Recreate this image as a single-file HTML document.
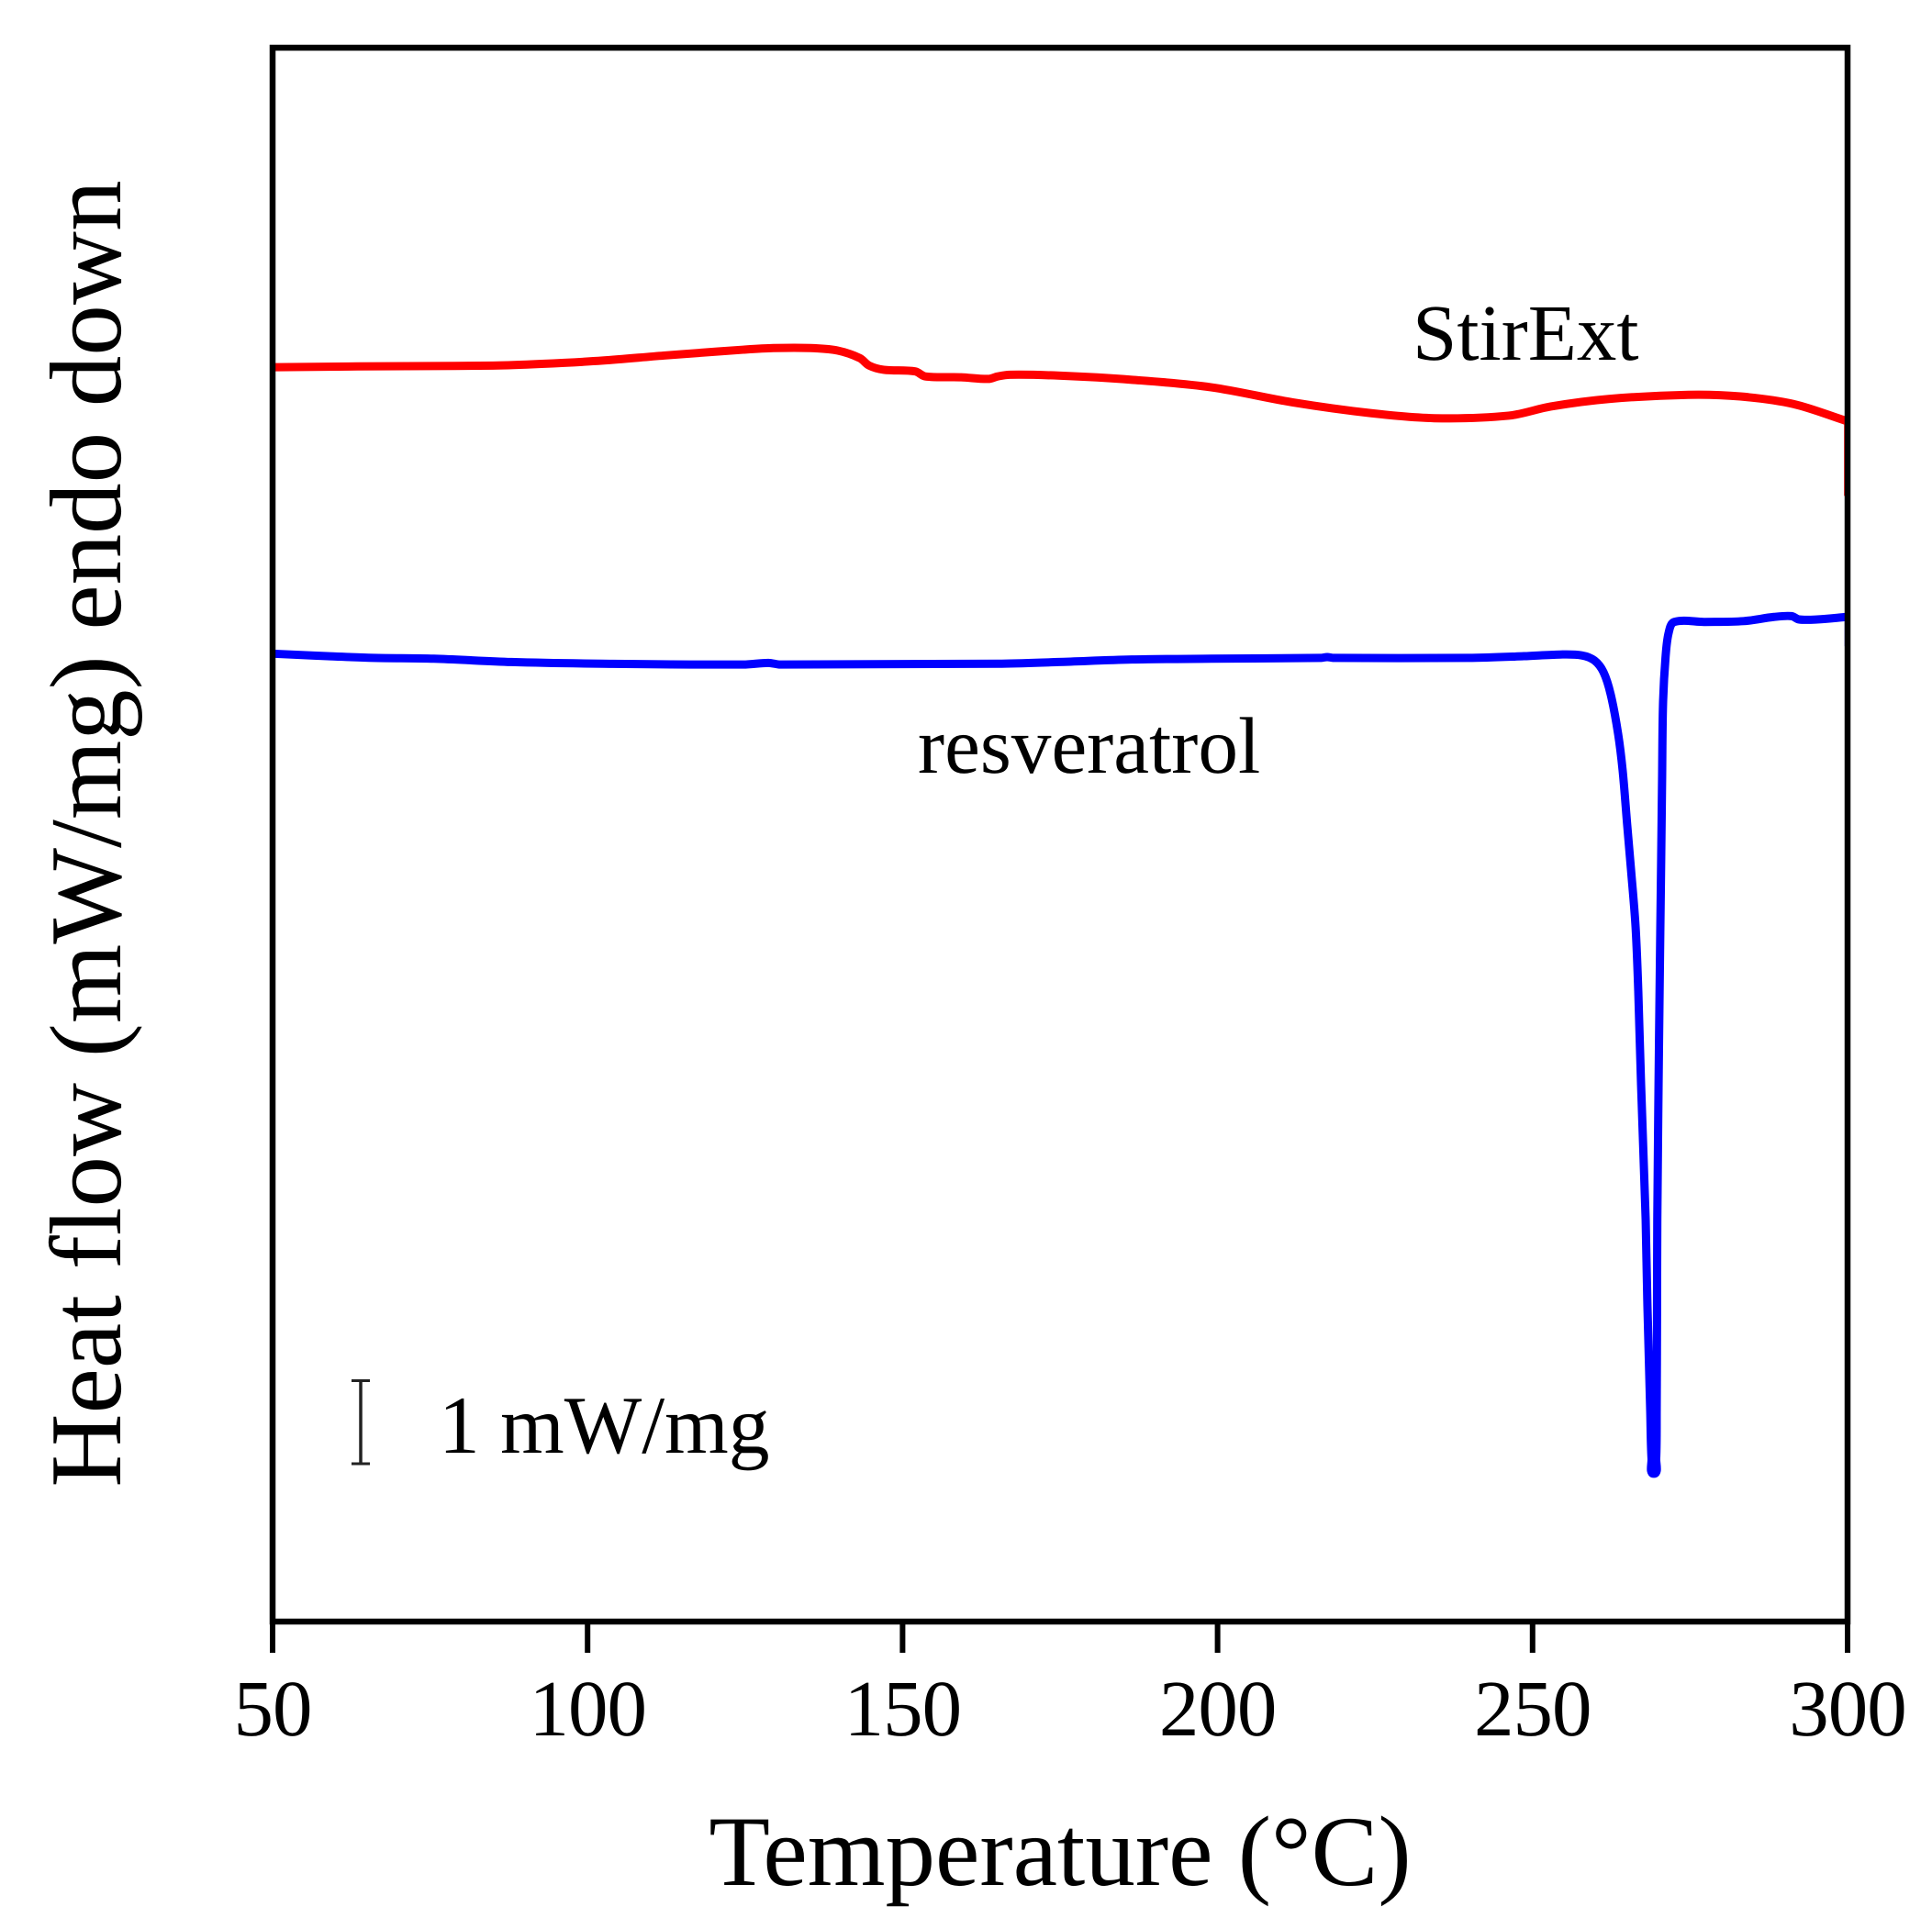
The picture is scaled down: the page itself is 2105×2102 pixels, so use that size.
<!DOCTYPE html>
<html lang="en">
<head>
<meta charset="utf-8">
<title>DSC heat flow vs temperature</title>
<style>
html,body{margin:0;padding:0;background:#fff;}
svg{display:block;}
text{font-family:"Liberation Serif","Times New Roman",serif;fill:#000;text-rendering:geometricPrecision;}
</style>
</head>
<body>
<svg id="chart" xmlns="http://www.w3.org/2000/svg" width="2105" height="2102" viewBox="0 0 2105 2102">
  <rect x="0" y="0" width="2105" height="2102" fill="#fff"/>
  <g id="series"></g>
  <rect x="297" y="52" width="1716" height="1715" fill="none" stroke="#000" stroke-width="6.5"/>
  <g id="ticks"></g>
  <text x="1155" y="2054" font-size="109" text-anchor="middle">Temperature (°C)</text>
  <text transform="translate(131 908.5) rotate(-90)" font-size="111" text-anchor="middle">Heat flow (mW/mg) endo down</text>
  <text x="1539" y="392" font-size="87">StirExt</text>
  <text x="1000" y="842" font-size="87.3">resveratrol</text>
  <text x="478" y="1583" font-size="89.5">1 mW/mg</text>
  <g stroke="#222" fill="none">
    <line x1="393" x2="393" y1="1504" y2="1595" stroke-width="3.5"/>
    <line x1="383" x2="403" y1="1504.5" y2="1504.5" stroke-width="3"/>
    <line x1="383" x2="403" y1="1595" y2="1595" stroke-width="3"/>
  </g>
</svg>
<script>
// X axis categories (temperature, °C)
const xTicks = [50, 100, 150, 200, 250, 300];

// StirExt trace: temperature (°C) and heat flow (mW/mg, arbitrary offset)
const stirExtTemp = [50, 63.5, 85, 92.7, 102.4, 112.1, 124.7, 129.5, 135.4, 139.7, 143.2, 144.7, 147, 152, 153.6, 159.3, 163.6, 165.1, 167, 174.7, 186.4, 199, 211.9, 224.4, 234.4, 246.2, 252.9, 262.1, 274.7, 283, 291.4, 299.7];
const stirExtFlow = [15.02, 15.03, 15.04, 15.06, 15.1, 15.16, 15.23, 15.25, 15.25, 15.22, 15.13, 15.04, 14.99, 14.97, 14.91, 14.9, 14.88, 14.91, 14.93, 14.92, 14.87, 14.78, 14.6, 14.47, 14.41, 14.44, 14.55, 14.64, 14.69, 14.67, 14.58, 14.38];
const stirExtTailTemp = [299.7, 299.7];
const stirExtTailFlow = [14.38, 13.48];

// Resveratrol trace: temperature (°C) and heat flow (mW/mg, arbitrary offset)
const resveratrolTemp = [50, 58.7, 66, 75.6, 87.9, 102.4, 124.7, 128.7, 130.6, 165.1, 174.7, 186.4, 199, 216.5, 217.4, 218.3, 239.8, 248.6, 254.4, 257.8, 259.8, 261.25, 262.41, 263.58, 264.3, 265.03, 265.62, 266.35, 266.78, 267.22, 267.95, 268.24, 268.68, 268.89, 269.26, 269.62, 269.7, 269.76, 269.8, 270, 270.13, 270.27, 270.42, 270.56, 270.71, 271.1, 271.6, 272.5, 277.3, 283.5, 288.3, 291.1, 292.3, 295.2, 299.9];
const resveratrolFlow = [11.59, 11.56, 11.54, 11.53, 11.49, 11.47, 11.46, 11.48, 11.46, 11.47, 11.49, 11.52, 11.53, 11.54, 11.55, 11.54, 11.54, 11.56, 11.58, 11.57, 11.51, 11.37, 11.1, 10.63, 10.19, 9.53, 9.01, 8.32, 7.55, 6.44, 4.82, 3.76, 2.52, 1.95, 1.77, 1.95, 2.52, 3.76, 4.82, 6.44, 7.33, 8.24, 9.16, 10.08, 10.99, 11.54, 11.84, 11.97, 11.97, 11.98, 12.03, 12.04, 12, 12, 12.03];
const resveratrolTailTemp = [299.9, 299.9];
const resveratrolTailFlow = [12.03, 11.68];

// Axis functions
function xScale(t) { return 297 + (t - 50) * (2013 - 297) / (300 - 50); }
function yScale(v) { return 1767 - v * 91; }

const SVG_NS = 'http://www.w3.org/2000/svg';

// Smooth curve through the data points; handle length follows each segment, so no overshoot.
function pathFrom(temps, flows) {
  const pts = temps.map(function (t, i) { return [xScale(t), yScale(flows[i])]; });
  const n = pts.length;
  function tangent(i) {
    const a = pts[Math.max(i - 1, 0)];
    const b = pts[Math.min(i + 1, n - 1)];
    const dx = b[0] - a[0];
    const dy = b[1] - a[1];
    const len = Math.hypot(dx, dy) || 1;
    return [dx / len, dy / len];
  }
  let d = 'M' + pts[0][0].toFixed(2) + ' ' + pts[0][1].toFixed(2);
  for (let i = 0; i < n - 1; i++) {
    const p = pts[i];
    const q = pts[i + 1];
    const seg = Math.hypot(q[0] - p[0], q[1] - p[1]) / 3;
    const t0 = tangent(i);
    const t1 = tangent(i + 1);
    d += ' C' + (p[0] + t0[0] * seg).toFixed(2) + ' ' + (p[1] + t0[1] * seg).toFixed(2) +
         ' ' + (q[0] - t1[0] * seg).toFixed(2) + ' ' + (q[1] - t1[1] * seg).toFixed(2) +
         ' ' + q[0].toFixed(2) + ' ' + q[1].toFixed(2);
  }
  return d;
}

function addLine(temps, flows, color, width) {
  const p = document.createElementNS(SVG_NS, 'path');
  p.setAttribute('d', pathFrom(temps, flows));
  p.setAttribute('fill', 'none');
  p.setAttribute('stroke', color);
  p.setAttribute('stroke-width', width);
  p.setAttribute('stroke-linejoin', 'round');
  p.setAttribute('stroke-linecap', 'butt');
  document.getElementById('series').appendChild(p);
  return p;
}

const stirExtLine = addLine(stirExtTemp, stirExtFlow, '#ff0000', 9);


const stirExtTail = addLine(stirExtTailTemp, stirExtTailFlow, '#ff0000', 3.5);


const resveratrolLine = addLine(resveratrolTemp, resveratrolFlow, '#0000ff', 9);


const resveratrolTail = addLine(resveratrolTailTemp, resveratrolTailFlow, '#0000ff', 5);



const tickGroup = document.getElementById('ticks');
xTicks.forEach(function (t) {
  const tick = document.createElementNS(SVG_NS, 'line');
  
  
  tick.setAttribute('x1', xScale(t));
  tick.setAttribute('x2', xScale(t));
  tick.setAttribute('y1', 1767);
  tick.setAttribute('y2', 1801);
  tick.setAttribute('stroke', '#000');
  tick.setAttribute('stroke-width', 6);
  tickGroup.appendChild(tick);

  const label = document.createElementNS(SVG_NS, 'text');
  
  
  label.setAttribute('x', xScale(t));
  label.setAttribute('y', 1891);
  label.setAttribute('font-size', 87);
  label.setAttribute('letter-spacing', '-1');
  label.setAttribute('text-anchor', 'middle');
  label.textContent = t;
  tickGroup.appendChild(label);
});
</script>
</body>
</html>
